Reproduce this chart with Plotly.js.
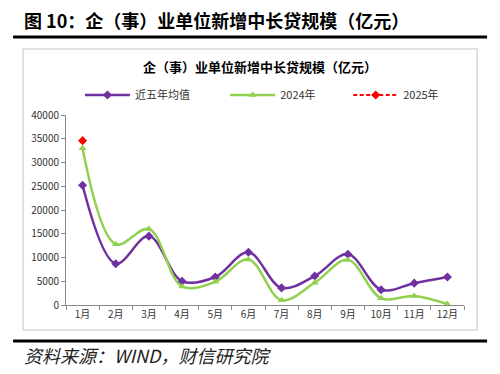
<!DOCTYPE html>
<html><head><meta charset="utf-8">
<script src="https://cdn.plot.ly/plotly-3.0.1.min.js"></script>
<style>html,body{margin:0;padding:0;background:#fff}#c{width:500px;height:374px}</style>
</head><body><div id="c"></div>
<script>
const months = ["1月","2月","3月","4月","5月","6月","7月","8月","9月","10月","11月","12月"];
const avg5 = [25200, 8700, 14500, 5000, 5900, 11100, 3600, 6100, 10700, 3200, 4600, 5900];
const y2024 = [33000, 12800, 16000, 3900, 4900, 9600, 1000, 4700, 9500, 1400, 1900, 200];
const y2025 = [34600];
const yTicks = [0, 5000, 10000, 15000, 20000, 25000, 30000, 35000, 40000];

const font = "'Noto Sans CJK SC', 'Noto Sans', sans-serif";
const traces = [
  {x: months, y: avg5, name: "近五年均值", type: "scatter", mode: "lines+markers", legend: "legend",
   line: {color: "#7030A0", width: 2.5, shape: "spline", smoothing: 1},
   marker: {symbol: "diamond", size: 7, color: "#7030A0"}},
  {x: months, y: y2024, name: "2024年", type: "scatter", mode: "lines+markers", legend: "legend2",
   line: {color: "#92D050", width: 2.5, shape: "spline", smoothing: 1},
   marker: {symbol: "triangle-up", size: 7, color: "#92D050"}},
  {x: months.slice(0, y2025.length), y: y2025, name: "2025年", type: "scatter", mode: "lines+markers", legend: "legend3",
   line: {color: "#FF0000", width: 2, dash: "4px,2.5px"},
   marker: {symbol: "diamond", size: 7, color: "#FF0000"}}
];

const legBase = {orientation: "h", y: 1.105, yanchor: "middle", xanchor: "left", itemwidth: 45,
  font: {family: font, size: 11, color: "#333"}, bgcolor: "rgba(0,0,0,0)"};

const layout = {
  width: 500, height: 374,
  margin: {l: 66, r: 36, t: 115, b: 69, autoexpand: false},
  paper_bgcolor: "#fff", plot_bgcolor: "#fff",
  font: {family: font, size: 10, color: "#333"},
  showlegend: true,
  legend: Object.assign({}, legBase, {x: 0.035}),
  legend2: Object.assign({}, legBase, {x: 0.40}),
  legend3: Object.assign({}, legBase, {x: 0.709}),
  xaxis: {type: "category", range: [-0.5, 11.5], showgrid: false, showline: true, linecolor: "#888", linewidth: 1,
          ticks: "outside", tickson: "boundaries", ticklen: 4, tickcolor: "#888", automargin: false,
          tickfont: {family: font, size: 10, color: "#333"}, fixedrange: true},
  yaxis: {range: [0, 40000], tickvals: yTicks, ticktext: yTicks.map(String), showgrid: false,
          showline: true, linecolor: "#888", linewidth: 1, ticks: "outside", ticklen: 4, tickcolor: "#888",
          zeroline: false, automargin: false, tickfont: {family: font, size: 10, color: "#333"}, fixedrange: true},
  shapes: [
    {type: "line", xref: "paper", yref: "paper", x0: -0.133, x1: 1.058, y0: 1.41, y1: 1.41,
     line: {color: "#000", width: 3}},
    {type: "rect", xref: "paper", yref: "paper", x0: -0.108, x1: 1.033, y0: -0.132, y1: 1.347,
     line: {color: "#d9d9d9", width: 1.5}, fillcolor: "rgba(0,0,0,0)", layer: "below"},
    {type: "line", xref: "paper", yref: "paper", x0: -0.133, x1: 1.058, y0: -0.19, y1: -0.19,
     line: {color: "#000", width: 3}}
  ],
  annotations: [
    {text: "<b>图 10：企（事）业单位新增中长贷规模（亿元）</b>", xref: "paper", yref: "paper",
     x: -0.11, y: 1.5, xanchor: "left", yanchor: "middle", showarrow: false,
     font: {family: font, size: 18, color: "#000"}},
    {text: "<b>企（事）业单位新增中长贷规模（亿元）</b>", xref: "paper", yref: "paper",
     x: 0.487, y: 1.253, xanchor: "center", yanchor: "middle", showarrow: false,
     font: {family: font, size: 13, color: "#000"}},
    {text: "<i>资料来源：WIND，财信研究院</i>", xref: "paper", yref: "paper",
     x: -0.11, y: -0.265, xanchor: "left", yanchor: "middle", showarrow: false,
     font: {family: font, size: 18, color: "#222"}}
  ]
};
Plotly.newPlot("c", traces, layout, {displayModeBar: false, staticPlot: true});
</script></body></html>
